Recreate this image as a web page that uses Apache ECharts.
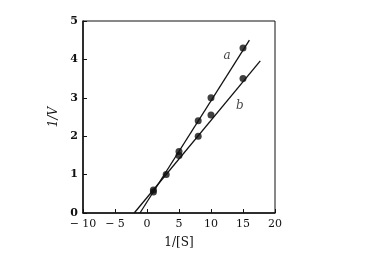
<!DOCTYPE html>
<html><head><meta charset="utf-8">
<script src="https://cdn.jsdelivr.net/npm/echarts@6/dist/echarts.min.js"></script>
<style>html,body{margin:0;padding:0;background:#fff}#c{width:368px;height:255px}</style>
</head><body><div id="c"></div>
<script>
// Data
const aX = [1, 5, 8, 10, 15];
const aY = [0.6, 1.6, 2.4, 3.0, 4.3];
const bX = [1, 3, 5, 8, 10, 15];
const bY = [0.55, 1.0, 1.5, 2.0, 2.55, 3.5];
// Fitted lines (endpoints as drawn)
const aLineX = [-1.1, 16.0];
const aLineY = [0, 4.5];
const bLineX = [-2.0, 17.7];
const bLineY = [0, 3.96];
const xTicks = [-10, -5, 0, 5, 10, 15, 20];
const yTicks = [0, 1, 2, 3, 4, 5];

const zip = (xs, ys) => xs.map((x, i) => [x, ys[i]]);
const font = '"DejaVu Serif", "Liberation Serif", serif';
const chart = echarts.init(document.getElementById('c'));
chart.setOption({
  animation: false,
  grid: { left: 83, top: 21, right: 93, bottom: 42, show: true, borderColor: '#111', borderWidth: 1 },
  xAxis: {
    type: 'value', min: -10, max: 20, interval: 5,
    name: '1/[S]', nameLocation: 'middle', nameGap: 24,
    nameTextStyle: { fontFamily: font, fontSize: 12, color: '#111' },
    axisLine: { onZero: false, lineStyle: { color: '#111', width: 1.5 } },
    axisTick: { inside: true, length: 4, lineStyle: { color: '#111' } },
    axisLabel: { fontFamily: font, fontSize: 11, color: '#111', margin: 6,
      formatter: v => v < 0 ? '− ' + Math.abs(v) : String(v) },
    splitLine: { show: false }
  },
  yAxis: {
    type: 'value', min: 0, max: 5, interval: 1,
    name: '1/V', nameLocation: 'middle', nameGap: 22,
    nameTextStyle: { fontFamily: font, fontSize: 12, fontStyle: 'italic', color: '#111' },
    axisLine: { onZero: false, lineStyle: { color: '#111', width: 1.5 } },
    axisTick: { inside: true, length: 4, lineStyle: { color: '#111' } },
    axisLabel: { fontFamily: font, fontSize: 11, color: '#111', fontWeight: 'bold', margin: 5 },
    splitLine: { show: false }
  },
  series: [
    { type: 'line', data: zip(aLineX, aLineY), symbol: 'none', lineStyle: { color: '#111', width: 1.3 } },
    { type: 'line', data: zip(bLineX, bLineY), symbol: 'none', lineStyle: { color: '#111', width: 1.3 } },
    { type: 'scatter', data: zip(aX, aY), symbol: 'circle', symbolSize: 7, itemStyle: { color: '#111' } },
    { type: 'scatter', data: zip(bX, bY), symbol: 'circle', symbolSize: 7, itemStyle: { color: '#111' } },
    { type: 'scatter', data: [[12.5, 4.1]], symbolSize: 0,
      label: { show: true, formatter: 'a', position: 'inside', fontFamily: font, fontStyle: 'italic', fontSize: 12, color: '#111' } },
    { type: 'scatter', data: [[14.5, 2.8]], symbolSize: 0,
      label: { show: true, formatter: 'b', position: 'inside', fontFamily: font, fontStyle: 'italic', fontSize: 12, color: '#111' } }
  ]
});
</script></body></html>
